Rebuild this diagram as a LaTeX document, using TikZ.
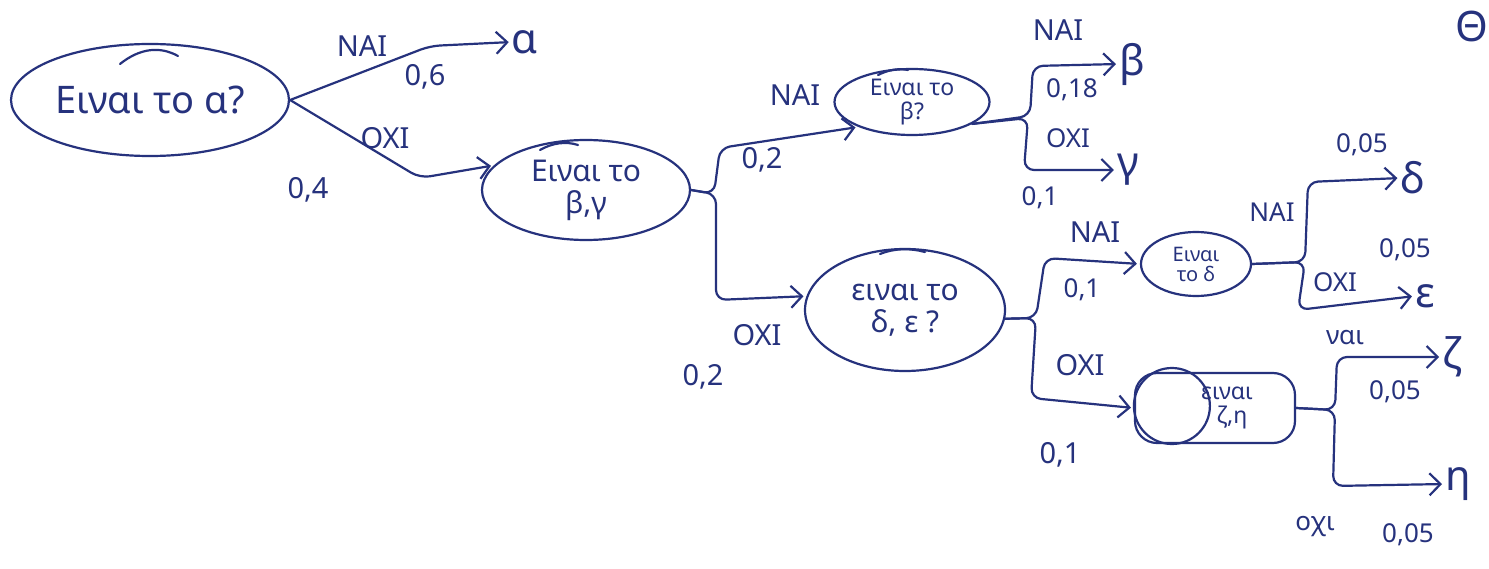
\documentclass[tikz,border=0pt]{standalone}
\usepackage{fontspec}
\setmainfont{Noto Sans}
\usetikzlibrary{shapes.geometric,arrows.meta,calc}
\definecolor{ink}{RGB}{38,50,125}
\begin{document}
\begin{tikzpicture}[x=1pt,y=-1pt,
 pen/.style={draw=ink,line width=2.2pt,line cap=round,line join=round},
 qnode/.style={ellipse,pen,text=ink,align=center,inner sep=0pt},
 link/.style={pen,rounded corners=10pt,shorten >=3pt,-{Straight Barb[length=11pt,width=22pt,line width=2.2pt]}},
 lab/.style={text=ink,inner sep=0pt,font=\fontsize{29}{29}\selectfont},
 slab/.style={text=ink,inner sep=0pt,font=\fontsize{26}{26}\selectfont},
 leaf/.style={text=ink,inner sep=0pt,font=\fontsize{42}{42}\selectfont},
 bigtxt/.style={font=\fontsize{38}{40}\selectfont},
 midtxt/.style={font=\fontsize{30}{32}\selectfont},
 smalltxt/.style={font=\fontsize{23}{24}\selectfont},
 tinytxt/.style={font=\fontsize{20}{20}\selectfont}]
\useasboundingbox (0,0) rectangle (1489,569);
\clip (0,0) rectangle (1489,569);
\fill[white] (0,0) rectangle (1489,569);

% question nodes
\node[qnode,bigtxt,minimum width=278pt,minimum height=112pt] (n1) at (150,100) {Ειναι το α?};
\node[qnode,midtxt,minimum width=208pt,minimum height=100pt] (n2) at (586,190) {Ειναι το\\β,γ};
\node[qnode,smalltxt,minimum width=155pt,minimum height=66pt] (n3) at (912,102) {Ειναι το\\β?};
\node[qnode,midtxt,minimum width=200pt,minimum height=122pt] (n4) at (905,310) {ειναι το\\δ, ε ?};
\node[qnode,tinytxt,minimum width=110pt,minimum height=64pt] (n5) at (1196,264) {Ειναι\\το δ};
\node[pen,rectangle,rounded corners=22pt,text=ink,align=center,inner sep=0pt,smalltxt,
      minimum width=160pt,minimum height=70pt] (n6) at (1215,408) {\hspace*{24pt}ειναι\\\hspace*{34pt}ζ,η};
\draw[pen] ($(n6.west)+(38,-2)$) circle [radius=38];

% pen strokes on tops of the ellipses
\draw[pen] (120,64) .. controls (140,48) and (160,46) .. (178,56);
\draw[pen] (540,150) .. controls (552,143) and (566,141) .. (578,145);
\draw[pen] (878,75) .. controls (888,70) and (898,68) .. (908,70);
\draw[pen] (880,254) .. controls (895,248) and (910,248) .. (925,252);

% leaves
\node[leaf] (a) at (525,42) {α};
\node[leaf] (b) at (1132,64) {β};
\node[leaf] (g) at (1128,170) {γ};
\node[leaf] (d) at (1413,178) {δ};
\node[leaf] (e) at (1425,296) {ε};
\node[leaf] (z) at (1452,357) {ζ};
\node[leaf] (h) at (1458,484) {η};
\node[leaf] (th) at (1472,26) {Θ};

% connectors
\draw[link] (n1.east) -- (430,46) -- (a.west);
\draw[link] (n1.east) -- (420,178) -- (n2.165);
\draw[link] (n2.east) -- (714,194) -- (720,148) -- (n3.205);
\draw[link] (n2.east) -- (716,194) -- (716,300) -- (n4.172);
\draw[link] (n3.-20) -- (1030,116) -- (1033,66) -- (b.west);
\draw[link] (n3.-20) -- (1028,118) -- (1024,170) -- (g.west);
\draw[link] (n4.-5) -- (1036,318) -- (1045,258) -- (n5.west);
\draw[link] (n4.-5) -- (1036,318) -- (1031,398) -- (n6.west);
\draw[link] (n5.east) -- (1305,262) -- (1308,182) -- (d.west);
\draw[link] (n5.east) -- (1305,262) -- (1298,310) -- (e.west);
\draw[link] (n6.east) -- (1335,410) -- (1337,357) -- (z.west);
\draw[link] (n6.east) -- (1335,410) -- (1333,486) -- (h.west);

% labels
\node[lab] (l1) at (362,46) {ΝΑΙ};
\node[lab] (p1) at (425,77) {0,6};
\node[lab] (l2) at (385,138) {ΟΧΙ};
\node[lab] (p2) at (308,190) {0,4};
\node[lab] (l3) at (795,95) {ΝΑΙ};
\node[lab] (p3) at (762,160) {0,2};
\node[lab] (l4) at (757,335) {ΟΧΙ};
\node[lab] (p4) at (703,377) {0,2};
\node[lab] (l5) at (1058,30) {ΝΑΙ};
\node[slab] (p5) at (1072,90) {0,18};
\node[slab] (l6) at (1068,138) {ΟΧΙ};
\node[slab] (p6) at (1040,198) {0,1};
\node[lab] (l7) at (1095,232) {ΝΑΙ};
\node[slab] (p7) at (1082,290) {0,1};
\node[lab] (l8) at (1080,365) {ΟΧΙ};
\node[lab] (p8) at (1060,455) {0,1};
\node[slab] (l9) at (1272,212) {ΝΑΙ};
\node[slab] (p9) at (1362,145) {0,05};
\node[slab] (l10) at (1335,282) {ΟΧΙ};
\node[slab] (p10) at (1405,250) {0,05};
\node[slab] (l11) at (1345,338) {ναι};
\node[slab] (p11) at (1395,392) {0,05};
\node[slab] (l12) at (1315,527) {οχι};
\node[slab] (p12) at (1408,535) {0,05};
\end{tikzpicture}
\end{document}
